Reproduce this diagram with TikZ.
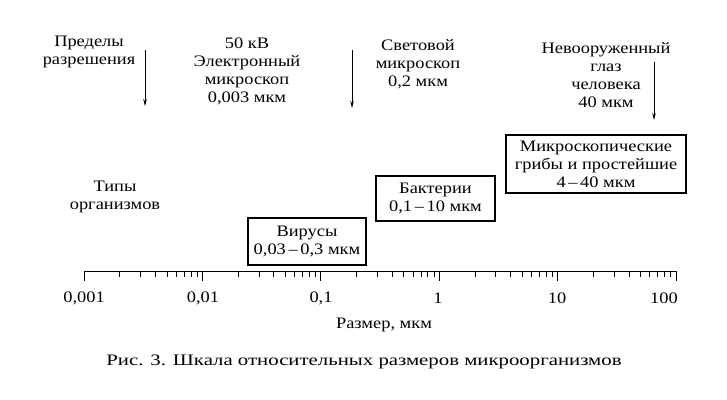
\documentclass[tikz,border=0pt]{standalone}
\usepackage{fontspec}
\setmainfont[FakeStretch=1.15]{Liberation Serif}
\newfontfamily\capfont[FakeStretch=1.3]{Liberation Serif}
\usetikzlibrary{arrows.meta}
\begin{document}
\begin{tikzpicture}[x=1pt,y=-1pt,
  txt/.style={font=\fontsize{16}{18}\selectfont, align=center, inner sep=0pt},
  orgbox/.style={txt, draw, line width=1.1pt},
  arr/.style={line width=0.6pt, -{Stealth[length=7pt,width=3.5pt]}},
  axisline/.style={line width=0.8pt},
  tick/.style={line width=0.5pt}]
\useasboundingbox (0,0) rectangle (727,399);
% top labels
\node[txt] (lim) at (89,52) {Пределы\\разрешения};
\node[txt] (em) at (247,71) {50 кВ\\Электронный\\микроскоп\\0,003 мкм};
\node[txt] (lm) at (418,64) {Световой\\микроскоп\\0,2 мкм};
\node[txt] (eye) at (606,75) {Невооруженный\\глаз\\человека\\40 мкм};
\node[txt] (types) at (115,197) {Типы\\организмов};
% arrows
\coordinate (a1s) at (145,50); \coordinate (a1e) at (145,106);
\coordinate (a2s) at (352,50); \coordinate (a2e) at (352,108);
\coordinate (a3s) at (654,62); \coordinate (a3e) at (654,120);
\draw[arr] (a1s) -- (a1e);
\draw[arr] (a2s) -- (a2e);
\draw[arr] (a3s) -- (a3e);
% boxes
\node[orgbox, minimum width=118pt, minimum height=47pt] (vir) at (307,241.5) {Вирусы\\0,03\,–\,0,3 мкм};
\node[orgbox, minimum width=119pt, minimum height=45pt] (bak) at (435.5,198.5) {Бактерии\\0,1\,–\,10 мкм};
\node[orgbox, minimum width=180pt, minimum height=58pt] (fun) at (596,164) {Микроскопические\\грибы и простейшие\\4\,–\,40 мкм};
% axis
\coordinate (axL) at (84,271);
\coordinate (axR) at (676,271);
\draw[axisline] (axL) -- (axR);
\foreach \d in {0,...,4}{
  \foreach \m in {2,...,9}{
    \draw[tick] ({84+118.4*(\d+log10(\m))},271) -- ++(0,6);
  }
}
\foreach \d in {0,...,5}{
  \draw[tick, line width=0.7pt] ({84+118.4*\d},271) -- ++(0,10);
}
\node[txt] (t0) at (84,298) {0,001};
\node[txt] (t1) at (203,298) {0,01};
\node[txt] (t2) at (321,298) {0,1};
\node[txt] (t3) at (438,298) {1};
\node[txt] (t4) at (557,298) {10};
\node[txt] (t5) at (664,298) {100};
\node[txt] (xl) at (384,325) {Размер, мкм};
\node[txt, font=\capfont\fontsize{16}{18}\selectfont] (cap) at (364,362) {Рис. 3. Шкала относительных размеров микроорганизмов};
\end{tikzpicture}
\end{document}
